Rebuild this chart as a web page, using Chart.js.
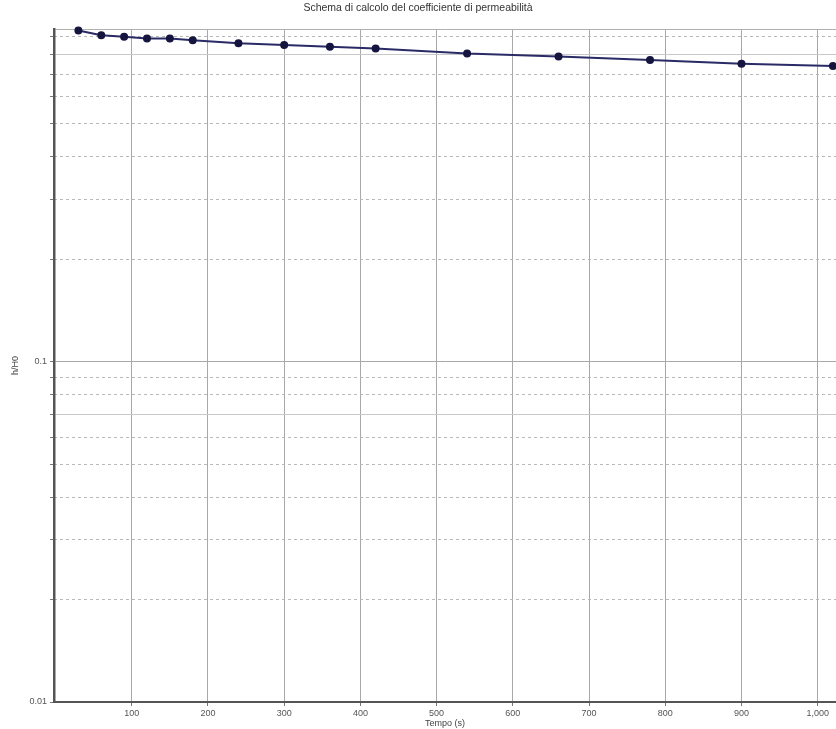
<!DOCTYPE html>
<html>
<head>
<meta charset="utf-8">
<script src="https://cdn.jsdelivr.net/npm/chart.js@4"></script>
<style>
  html, body { margin: 0; padding: 0; background: #ffffff; overflow: hidden; }
  #wrap { width: 836px; height: 729px; position: relative; }
</style>
</head>
<body>
<div id="wrap"><canvas id="c"></canvas></div>
<script>
// Data
const titleText = 'Schema di calcolo del coefficiente di permeabilità';
const xTitle = 'Tempo (s)';
const yTitle = 'h/H0';
const times = [30, 60, 90, 120, 150, 180, 240, 300, 360, 420, 540, 660, 780, 900, 1020];
const ratios = [0.94, 0.911, 0.902, 0.891, 0.891, 0.880, 0.862, 0.852, 0.842, 0.833, 0.805, 0.789, 0.770, 0.751, 0.739];
const xTicks = [100, 200, 300, 400, 500, 600, 700, 800, 900, 1000];
const yMajorTicks = [0.01, 0.1];
const ySolidExtra = [0.07, 0.8];
const yMinorTicks = [0.02, 0.03, 0.04, 0.05, 0.06, 0.07, 0.08, 0.09, 0.2, 0.3, 0.4, 0.5, 0.6, 0.7, 0.8, 0.9];
const xMin = -2, xMax = 1024, yMin = 0.01, yMax = 0.95;

const FONT = 'Liberation Sans';
const points = times.map((t, i) => ({ x: t, y: ratios[i] }));

new Chart(document.getElementById('c'), {
  type: 'line',
  data: {
    datasets: [{
      data: points,
      borderColor: '#2a2a66',
      borderWidth: 2,
      backgroundColor: '#15153f',
      pointBackgroundColor: '#15153f',
      pointBorderColor: '#15153f',
      pointRadius: 3,
      tension: 0,
      fill: false,
      clip: 6
    }]
  },
  options: {
    responsive: true,
    maintainAspectRatio: false,
    animation: false,
    locale: 'en-US',
    layout: { autoPadding: false, padding: { left: 0, right: 0, top: 0, bottom: 0 } },
    plugins: {
      legend: { display: false },
      tooltip: { enabled: false },
      title: {
        display: true,
        text: titleText,
        color: '#333',
        font: { family: FONT, size: 10.5, weight: 'normal' },
        padding: { top: 2, bottom: 14.4 }
      }
    },
    scales: {
      x: {
        type: 'linear',
        min: xMin,
        max: xMax,
        afterBuildTicks: s => { s.ticks = xTicks.map(v => ({ value: v })); },
        afterFit: s => { s.height = 27; s.paddingRight = 0; s.paddingLeft = 0; },
        ticks: {
          color: '#555',
          font: { family: FONT, size: 9 },
          padding: 2,
          maxRotation: 0,
          autoSkip: false
        },
        grid: { color: '#a8a8a8', lineWidth: 1, tickLength: 4, tickColor: '#777' },
        border: { display: true, color: '#555', width: 2 },
        title: {
          display: true,
          text: xTitle,
          color: '#444',
          font: { family: FONT, size: 9 },
          padding: { top: 0, bottom: 0 }
        }
      },
      y: {
        type: 'logarithmic',
        position: 'left',
        weight: 1,
        min: yMin,
        max: yMax,
        afterBuildTicks: s => {
          const vals = yMinorTicks.concat(yMajorTicks, [yMax]).sort((a, b) => a - b);
          s.ticks = vals.map(v => ({ value: v, major: yMajorTicks.includes(v) }));
        },
        afterFit: s => { s.width = 54; s.paddingTop = 0; s.paddingBottom = 0; },
        ticks: {
          color: '#555',
          font: { family: FONT, size: 9 },
          padding: 3,
          autoSkip: false,
          callback: v => (v === 0.01 ? '0.01' : v === 0.1 ? '0.1' : '')
        },
        grid: {
          color: ctx => {
            const v = ctx.tick ? ctx.tick.value : null;
            if (v === 0.1 || v === 0.01) return '#a8a8a8';
            if (ySolidExtra.includes(v)) return '#c8c8c8';
            if (v === yMax) return '#b0b0b0';
            return 'rgba(0,0,0,0)';
          },
          lineWidth: 1,
          tickLength: 4,
          tickColor: ctx => (ctx.tick && ctx.tick.value === yMax ? 'rgba(0,0,0,0)' : '#777')
        },
        border: { display: true, color: '#555', width: 2.5 },
        title: {
          display: true,
          text: yTitle,
          color: '#444',
          font: { family: FONT, size: 9 },
          padding: { top: 10.5, bottom: 0 }
        }
      },
      y2: {
        type: 'logarithmic',
        position: 'left',
        weight: 0,
        min: yMin,
        max: yMax,
        afterBuildTicks: s => {
          s.ticks = yMinorTicks.filter(v => !ySolidExtra.includes(v)).map(v => ({ value: v }));
        },
        afterFit: s => { s.width = 0; },
        ticks: { display: false },
        grid: { color: '#b8b8b8', lineWidth: 1, drawTicks: false },
        border: { display: false, dash: [3, 3] }
      }
    }
  }
});
</script>
</body>
</html>
